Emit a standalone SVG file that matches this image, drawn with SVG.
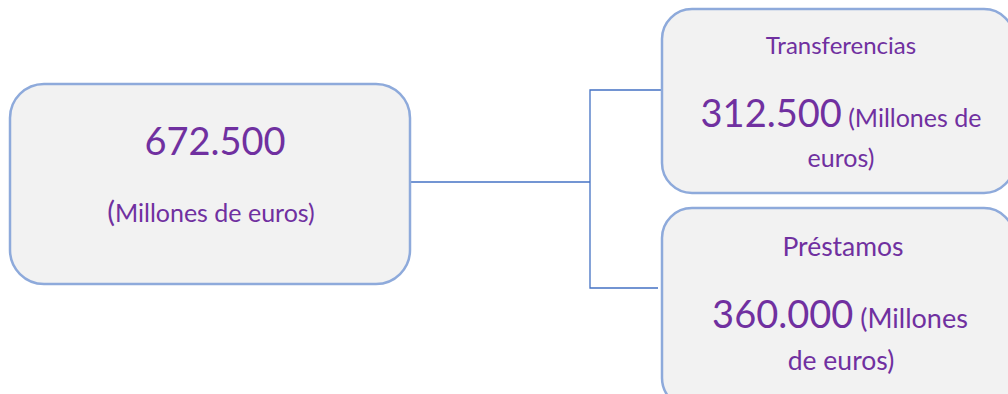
<svg xmlns="http://www.w3.org/2000/svg" width="1008" height="394" viewBox="0 0 1008 394">
<style>
.box{fill:#F2F2F2;stroke:#8EAADB;stroke-width:2.5}
.t{font-family:Lato,"Open Sans","Noto Sans",sans-serif;fill:#7030A0}
.big{font-size:38px}
.mid{font-size:25px}
.lg{font-size:26.5px}
.con{fill:none;stroke:#4472C4;stroke-width:1.3}
</style>
<rect width="1008" height="394" fill="#FFFFFF"/>
<g id="connectors">
<path class="con" d="M411 182 H590"/>
<path class="con" d="M662 90 H590 V288 H658"/>
</g>
<g id="total">
<rect class="box" x="10" y="84" width="400" height="200" rx="34"/>
<text class="t big" x="215" y="155" text-anchor="middle">672.500</text>
<text class="t mid" x="211" y="222" text-anchor="middle"><tspan font-size="29px">(</tspan>Millones de euros)</text>
</g>
<g id="transferencias">
<rect class="box" x="662" y="9" width="352" height="184" rx="30"/>
<text class="t" x="841" y="54" text-anchor="middle" font-size="24px">Transferencias</text>
<text class="t" x="841" y="127" text-anchor="middle"><tspan font-size="38px">312.500</tspan><tspan font-size="25px"> (Millones de</tspan></text>
<text class="t mid" x="841" y="167" text-anchor="middle">euros)</text>
</g>
<g id="prestamos">
<rect class="box" x="662" y="208" width="352" height="200" rx="30"/>
<text class="t lg" x="843" y="256" text-anchor="middle">Préstamos</text>
<text class="t" x="840" y="328" text-anchor="middle"><tspan font-size="38px">360.000</tspan><tspan font-size="27px"> (Millones</tspan></text>
<text class="t lg" x="841" y="370" text-anchor="middle">de euros)</text>
</g>
</svg>
